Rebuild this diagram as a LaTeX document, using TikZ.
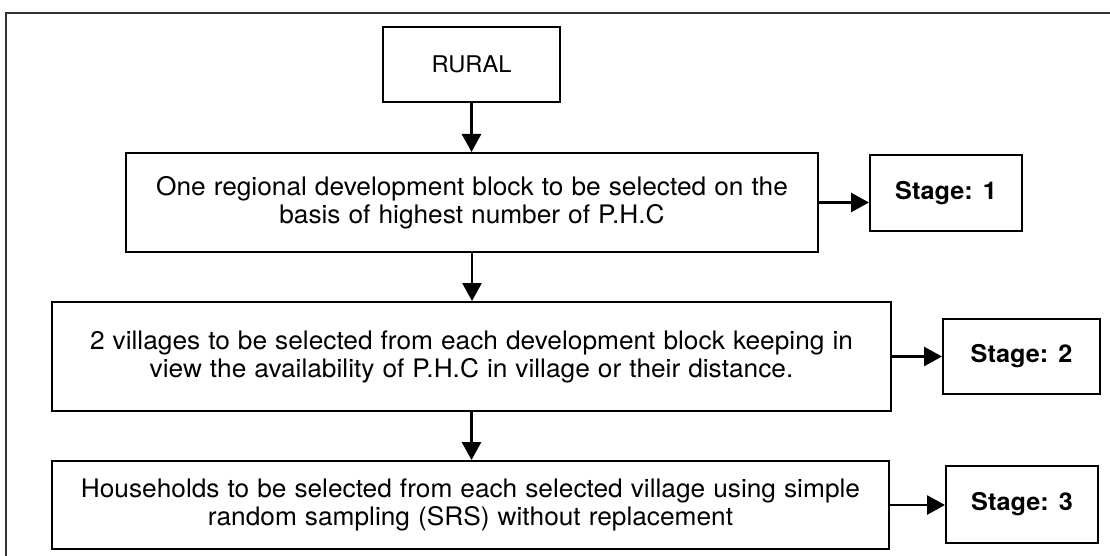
\documentclass[tikz,border=0pt]{standalone}
\usepackage{fontspec}
\setmainfont{TeX Gyre Heros}[FakeStretch=1.03, WordSpace=1.1]
\usetikzlibrary{arrows.meta}

\tikzset{
  box/.style={draw=black, line width=2pt, rectangle, inner sep=0pt,
              align=center, font=\fontsize{25.5}{28}\selectfont},
  stagebox/.style={box, font=\fontsize{24.5}{28}\selectfont\bfseries},
  flow/.style={line width=2.8pt, -{Triangle[length=18pt,width=19pt]}},
  frameline/.style={draw=black!80, line width=1.8pt}
}

\begin{document}
\begin{tikzpicture}[x=1pt, y=-1pt]
  \useasboundingbox (0,0) rectangle (1110,556);

  % outer frame (runs past the right and bottom edges)
  \draw[frameline] (6,560) -- (6,13) -- (1115,13);

  % main column
  \node[box, minimum width=177pt, minimum height=75pt,
        font=\fontsize{23}{28}\selectfont] (rural) at (471.5,64.5) {RURAL};
  \node[box, minimum width=692pt, minimum height=99pt] (blk) at (472,202.5)
    {One regional development block to be selected on the\\basis of highest number of P.H.C};
  \node[box, minimum width=839pt, minimum height=109pt] (vil) at (471.5,356.5)
    {2 villages to be selected from each development block keeping in\\view the availability of P.H.C in village or their distance.};
  \node[box, minimum width=837pt, minimum height=88pt] (hh) at (470.5,505)
    {Households to be selected from each selected village using simple\\random sampling (SRS) without replacement};

  % stage labels
  \node[stagebox, minimum width=152pt, minimum height=76pt] (s1) at (946,193) {Stage: 1};
  \node[stagebox, minimum width=157pt, minimum height=75pt] (s2) at (1021.5,356.5) {Stage: 2};
  \node[stagebox, minimum width=152pt, minimum height=77pt] (s3) at (1022,504.5) {Stage: 3};

  % vertical flow
  \draw[flow] (rural.south) -- (rural.south |- blk.north);
  \draw[flow] (blk.south) -- (blk.south |- vil.north);
  \draw[flow] (vil.south) -- (vil.south |- hh.north);

  % links to stage labels
  \draw[flow] (blk.east) -- (blk.east -| s1.west);
  \draw[flow] (vil.east) -- (vil.east -| s2.west);
  \draw[flow] (hh.east) -- (hh.east -| s3.west);
\end{tikzpicture}
\end{document}
